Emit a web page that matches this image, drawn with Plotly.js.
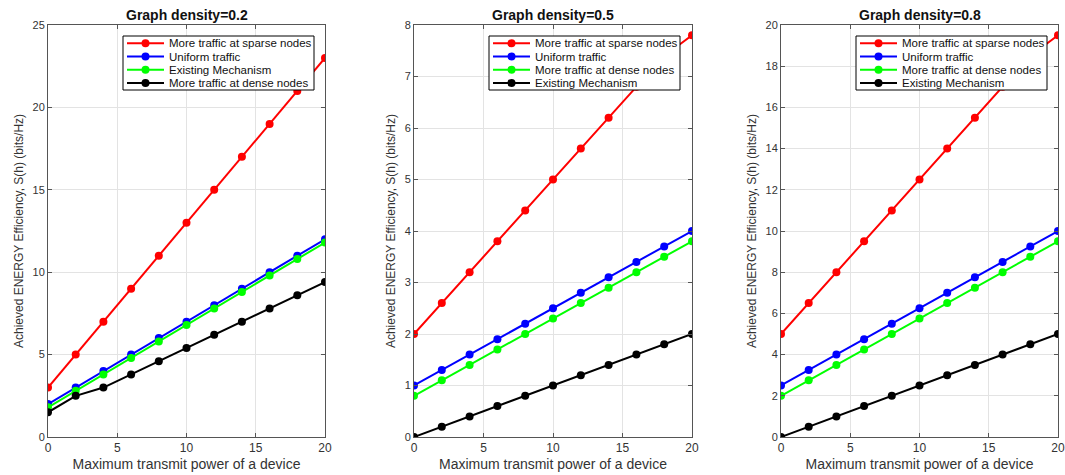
<!DOCTYPE html>
<html>
<head>
<meta charset="utf-8">
<script src="https://cdn.plot.ly/plotly-3.0.1.min.js"></script>
<style>html,body{margin:0;padding:0;background:#fff;}#chart{width:1065px;height:475px;}</style>
</head>
<body>
<div id="chart"></div>
<script>
// Shared x values (maximum transmit power)
const power = [0, 2, 4, 6, 8, 10, 12, 14, 16, 18, 20];

// Panel titles
const panelTitles = ["Graph density=0.2", "Graph density=0.5", "Graph density=0.8"];

// Panel 1: density 0.2
const p1Names = ["More traffic at sparse nodes", "Uniform traffic", "Existing Mechanism", "More traffic at dense nodes"];
const p1Red = [3, 5, 7, 9, 11, 13, 15, 17, 19, 21, 23];
const p1Blue = [2, 3, 4, 5, 6, 7, 8, 9, 10, 11, 12];
const p1Green = [1.8, 2.8, 3.8, 4.8, 5.8, 6.8, 7.8, 8.8, 9.8, 10.8, 11.8];
const p1Black = [1.5, 2.5, 3.0, 3.8, 4.6, 5.4, 6.2, 7.0, 7.8, 8.6, 9.4];

// Panel 2: density 0.5
const p2Names = ["More traffic at sparse nodes", "Uniform traffic", "More traffic at dense nodes", "Existing Mechanism"];
const p2Red = [2.0, 2.6, 3.2, 3.8, 4.4, 5.0, 5.6, 6.2, 6.8, 7.4, 7.8];
const p2Blue = [1.0, 1.3, 1.6, 1.9, 2.2, 2.5, 2.8, 3.1, 3.4, 3.7, 4.0];
const p2Green = [0.8, 1.1, 1.4, 1.7, 2.0, 2.3, 2.6, 2.9, 3.2, 3.5, 3.8];
const p2Black = [0, 0.2, 0.4, 0.6, 0.8, 1.0, 1.2, 1.4, 1.6, 1.8, 2.0];

// Panel 3: density 0.8
const p3Names = ["More traffic at sparse nodes", "Uniform traffic", "More traffic at dense nodes", "Existing Mechanism"];
const p3Red = [5, 6.5, 8, 9.5, 11, 12.5, 14, 15.5, 17, 18.5, 19.5];
const p3Blue = [2.5, 3.25, 4, 4.75, 5.5, 6.25, 7, 7.75, 8.5, 9.25, 10];
const p3Green = [2, 2.75, 3.5, 4.25, 5, 5.75, 6.5, 7.25, 8, 8.75, 9.5];
const p3Black = [0, 0.5, 1, 1.5, 2, 2.5, 3, 3.5, 4, 4.5, 5];

// Axis settings
const yRanges = [[0, 25], [0, 8], [0, 20]];
const yDtick = [5, 1, 2];
const xLabel = "Maximum transmit power of a device";
const yLabel = "Achieved ENERGY Efficiency, S(h) (bits/Hz)";

const colors = ["#ff0000", "#0000ff", "#00ff00", "#000000"];
const FONT = "Liberation Sans, Arial, sans-serif";
const W = 1065, H = 475;
const px = v => v / W;
const py = v => 1 - v / H;

const panels = [
  {names: p1Names, series: [p1Red, p1Blue, p1Green, p1Black]},
  {names: p2Names, series: [p2Red, p2Blue, p2Green, p2Black]},
  {names: p3Names, series: [p3Red, p3Blue, p3Green, p3Black]}
];

const xDomains = [[48 / W, 325 / W], [414 / W, 692 / W], [781 / W, 1058 / W]];
const yDomain = [py(437), py(25)];
// legend box placement (pixels)
const legLeft = [123, 489, 856];
const legTop = 36, legW = 191, legH = 54, legRow = 13.2, legFirst = 7.3;

const traces = [];
panels.forEach((p, i) => {
  const sfx = i === 0 ? "" : String(i + 1);
  p.series.forEach((s, k) => {
    traces.push({
      x: power, y: s, name: p.names[k],
      type: "scatter", mode: "lines+markers",
      line: {color: colors[k], width: 2},
      marker: {color: colors[k], size: 8},
      xaxis: "x" + sfx, yaxis: "y" + sfx,
      showlegend: false
    });
  });
});

const layout = {
  width: W, height: H,
  margin: {l: 0, r: 0, t: 0, b: 0},
  paper_bgcolor: "#fff", plot_bgcolor: "#fff",
  font: {family: FONT, size: 11, color: "#262626"},
  annotations: [], shapes: [],
  showlegend: false
};

panels.forEach((p, i) => {
  const sfx = i === 0 ? "" : String(i + 1);
  const xa = "xaxis" + sfx, ya = "yaxis" + sfx;
  layout[xa] = {
    domain: xDomains[i], range: [0, 20], dtick: 5, tick0: 0,
    showline: true, mirror: "ticks", linecolor: "#555", linewidth: 1,
    ticks: "inside", ticklen: 4, tickcolor: "#555",
    showgrid: true, gridcolor: "#e3e3e3", zeroline: false,
    anchor: "y" + sfx,
    tickfont: {size: 12, color: "#333"},
    title: {text: xLabel, font: {size: 14, color: "#333"}, standoff: 4}
  };
  layout[ya] = {
    domain: yDomain, range: yRanges[i], dtick: yDtick[i], tick0: 0,
    showline: true, mirror: "ticks", linecolor: "#555", linewidth: 1,
    ticks: "inside", ticklen: 4, tickcolor: "#555",
    showgrid: true, gridcolor: "#e3e3e3", zeroline: false,
    anchor: "x" + sfx,
    tickfont: {size: 11, color: "#333"},
    title: {text: yLabel, font: {size: 12, color: "#333"}, standoff: 6}
  };
  // subplot title
  layout.annotations.push({
    text: "<b>" + panelTitles[i] + "</b>",
    xref: "paper", yref: "paper",
    x: (xDomains[i][0] + xDomains[i][1]) / 2, y: py(15),
    xanchor: "center", yanchor: "middle", showarrow: false,
    font: {size: 14, color: "#111"}
  });
  // legend box
  const L = legLeft[i];
  layout.shapes.push({
    type: "rect", xref: "paper", yref: "paper",
    x0: px(L), x1: px(L + legW), y0: py(legTop), y1: py(legTop + legH),
    line: {color: "#000", width: 1}, fillcolor: "#fff", layer: "above"
  });
  p.names.forEach((nm, k) => {
    const cy = legTop + legFirst + k * legRow;
    layout.shapes.push({
      type: "line", xref: "paper", yref: "paper",
      x0: px(L + 4), x1: px(L + 41), y0: py(cy), y1: py(cy),
      line: {color: colors[k], width: 2}, layer: "above"
    });
    layout.shapes.push({
      type: "circle", xref: "paper", yref: "paper",
      xsizemode: "pixel", ysizemode: "pixel",
      xanchor: px(L + 22.5), yanchor: py(cy),
      x0: -4, x1: 4, y0: -4, y1: 4,
      line: {color: colors[k], width: 0}, fillcolor: colors[k], layer: "above"
    });
    layout.annotations.push({
      text: nm, xref: "paper", yref: "paper",
      x: px(L + 43.5), y: py(cy), xanchor: "left", yanchor: "middle",
      showarrow: false, font: {size: 11.5, color: "#111"}
    });
  });
});

Plotly.newPlot("chart", traces, layout, {displayModeBar: false, staticPlot: true});
</script>
</body>
</html>
